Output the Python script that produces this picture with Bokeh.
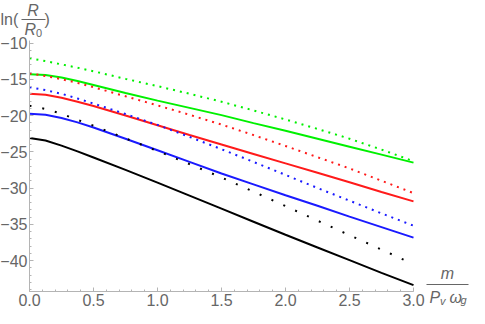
from bokeh.plotting import figure
from bokeh.models import FixedTicker, Label, BoxAnnotation, Range1d, LinearAxis
from bokeh.embed import file_html
from bokeh.resources import INLINE

# ---- data ----
x = [0.0, 0.125, 0.25, 0.375, 0.5, 0.75, 1.0, 1.25, 1.5, 1.75, 2.0, 2.25, 2.5, 2.75, 3.0]

green_dotted = [-12.1, -12.5, -12.95, -13.4, -13.9, -14.95, -15.95, -17.0, -18.1, -19.3, -20.55, -21.85, -23.2, -24.7, -26.3]
green_solid = [-14.3, -14.4, -14.75, -15.25, -15.8, -16.9, -17.95, -18.95, -19.95, -21.05, -22.1, -23.2, -24.3, -25.4, -26.5]
red_dotted = [-14.2, -14.55, -15.0, -15.5, -16.1, -17.35, -18.6, -19.9, -21.25, -22.7, -24.2, -25.75, -27.3, -29.0, -30.7]
red_solid = [-17.0, -17.15, -17.55, -18.1, -18.7, -20.0, -21.35, -22.7, -24.0, -25.3, -26.6, -27.9, -29.2, -30.55, -31.85]
blue_dotted = [-16.1, -16.5, -17.0, -17.65, -18.35, -19.8, -21.3, -22.95, -24.65, -26.4, -28.2, -30.0, -31.75, -33.5, -35.2]
blue_solid = [-19.75, -19.9, -20.35, -20.95, -21.65, -23.2, -24.8, -26.4, -28.0, -29.5, -31.0, -32.45, -33.95, -35.4, -36.85]
black_dotted = [-18.65, -19.1, -19.75, -20.6, -21.4, -23.15, -24.9, -26.7, -28.55, -30.5, -32.5, -34.5, -36.5, -38.5, -40.5]
black_solid = [-23.1, -23.45, -24.15, -24.95, -25.8, -27.5, -29.25, -31.05, -32.85, -34.65, -36.45, -38.2, -39.95, -41.7, -43.4]

x_ticks = [0.0, 0.5, 1.0, 1.5, 2.0, 2.5, 3.0]
x_tick_labels = ["0.0", "0.5", "1.0", "1.5", "2.0", "2.5", "3.0"]
y_ticks = [-40, -35, -30, -25, -20, -15, -10]
y_tick_labels = ["\u221240", "\u221235", "\u221230", "\u221225", "\u221220", "\u221215", "\u221210"]
x_axis_span = (0.0, 3.0)
y_axis_span = (-44.28, -9.65)

# ---- layout (page pixels; canvas starts at page 8,8) ----
W, H = 469, 308
X0_CANVAS, PX_PER_X = 29.0, 128.0          # where x=0 sits, pixels per x unit
YM10_CANVAS, PX_PER_Y = 42.5, 7.25         # where y=-10 sits, pixels per y unit

AXIS_COL = "#b4b4b4"
TEXT_COL = "#666666"
FONT = "Liberation Sans"

x_range = Range1d(-X0_CANVAS / PX_PER_X, (W - X0_CANVAS) / PX_PER_X)
y_range = Range1d(-10 - (H - YM10_CANVAS) / PX_PER_Y, -10 + YM10_CANVAS / PX_PER_Y)

p = figure(width=W, height=H, output_backend="svg", toolbar_location=None,
           x_range=x_range, y_range=y_range,
           x_axis_location=None, y_axis_location=None,
           min_border=0, min_border_left=0, min_border_right=0,
           min_border_top=0, min_border_bottom=0)
p.outline_line_color = None
p.grid.visible = False

xaxis = LinearAxis(fixed_location=y_axis_span[0], bounds=x_axis_span)
yaxis = LinearAxis(fixed_location=x_axis_span[0], bounds=y_axis_span)
p.add_layout(xaxis, "below")
p.add_layout(yaxis, "left")

for ax in (xaxis, yaxis):
    ax.axis_line_color = AXIS_COL
    ax.major_tick_line_color = AXIS_COL
    ax.minor_tick_line_color = AXIS_COL
    ax.major_tick_in = 4
    ax.major_tick_out = 0
    ax.minor_tick_in = 2
    ax.minor_tick_out = 0
    ax.major_label_text_color = TEXT_COL
    ax.major_label_text_font = FONT
    ax.major_label_text_font_size = "16px"
    ax.major_label_standoff = 2

xaxis.ticker = FixedTicker(ticks=x_ticks, minor_ticks=[i / 10 for i in range(31)])
xaxis.major_label_overrides = {t: l for t, l in zip(x_ticks, x_tick_labels)}
yaxis.ticker = FixedTicker(ticks=y_ticks, minor_ticks=list(range(-44, -9)))
yaxis.major_label_overrides = {t: l for t, l in zip(y_ticks, y_tick_labels)}

lw = 2
p.line(x, green_dotted, color="#00f000", line_width=lw, line_dash="2 5")
p.line(x, green_solid, color="#00f000", line_width=lw)
p.line(x, red_dotted, color="#ff1a1a", line_width=lw, line_dash="2 5")
p.line(x, red_solid, color="#ff1a1a", line_width=lw)
p.line(x, blue_dotted, color="#1a1aff", line_width=lw, line_dash="2 5")
p.line(x, blue_solid, color="#1a1aff", line_width=lw)
p.line(x, black_dotted, color="black", line_width=lw, line_dash="2 11")
p.line(x, black_solid, color="black", line_width=lw)


def lab(text, page_x, page_y, size="16px", style="normal", align="left"):
    p.add_layout(Label(x=page_x - 8, y=8 + H - page_y,
                       x_units="screen", y_units="screen", text=text,
                       text_font=FONT, text_font_size=size, text_font_style=style,
                       text_color=TEXT_COL, text_align=align, text_baseline="middle"))


def bar(x0, x1, y):
    p.add_layout(BoxAnnotation(left=x0 - 8, right=x1 - 8,
                               bottom=8 + H - y - 0.6, top=8 + H - y + 0.6,
                               left_units="screen", right_units="screen",
                               bottom_units="screen", top_units="screen",
                               fill_color=TEXT_COL, fill_alpha=1.0, line_color=None))


# y-axis label  ln(R / R0)
lab("ln(", 8, 27)
lab("R", 40.5, 17.5, style="italic", align="center")
bar(29, 53, 27)
lab("R", 32, 36.5, style="italic")
lab("0", 43.5, 40, size="11px")
lab(")", 52, 27)

# x-axis label  m / (P_v omega_g)
lab("m", 455, 281, style="italic", align="center")
bar(434, 476, 292)
lab("P", 437, 304.5, style="italic")
lab("v", 447.5, 308, size="11px", style="italic")
lab("\u03c9", 457, 304.5, style="italic")
lab("g", 468, 307.5, size="11px", style="italic")

open("out.html", "w").write(file_html(p, INLINE))
